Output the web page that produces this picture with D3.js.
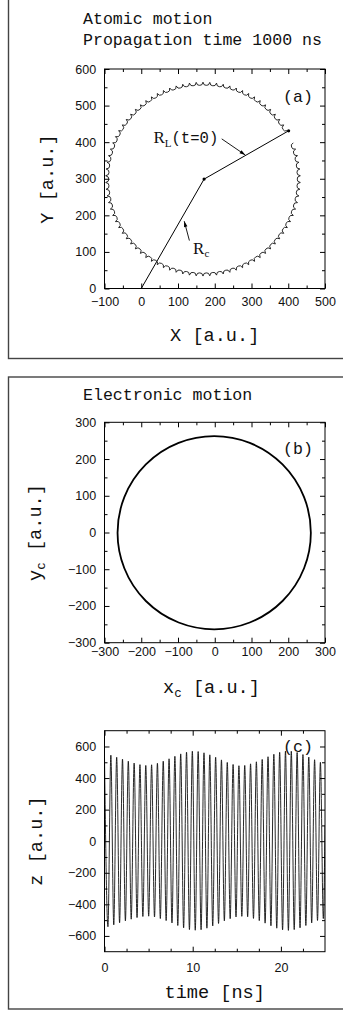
<!DOCTYPE html>
<html>
<head>
<meta charset="utf-8">
<script src="https://cdn.jsdelivr.net/npm/d3@7"></script>
<style>
  body { margin: 0; background: #fff; }
  svg { display: block; }
</style>
</head>
<body>
<div id="main"></div>
<script>
const w = 343, h = 1019;
const mono = "'Liberation Mono', 'DejaVu Sans Mono', monospace";
const sans = "'Liberation Sans', Arial, sans-serif";
const serif = "'Liberation Serif', 'DejaVu Serif', serif";

// ---- panel (a): atomic motion ----
const aXTicks = [-100, 0, 100, 200, 300, 400, 500];
const aXMinor = [-50, 50, 150, 250, 350, 450];
const aYTicks = [0, 100, 200, 300, 400, 500, 600];
const aYMinor = [50, 150, 250, 350, 450, 550];
const orbitCenter = [168, 299];     // centre of the big circle
const orbitRadius = 258;
const cuspHeight = 7;
const cuspAngles = [30, 34, 38, 42, 46, 50, 54, 58, 62, 66, 70, 74, 78, 82, 86, 90,
  94, 98, 102, 106, 110, 114, 118, 122, 126, 130, 134, 138, 142, 146, 150, 154,
  158, 162, 166, 170, 174, 178, 182, 186, 190, 194, 198, 202, 206, 210, 214, 218,
  222, 226, 230, 234, 238, 242, 246, 250, 254, 258, 262, 266, 270, 274, 278, 282,
  286, 290, 294, 298, 302, 306, 310, 314, 318, 322, 326, 330, 334, 338, 342, 346,
  350, 354, 358, 362, 366, 370, 374, 378, 382];
const origin = [0, 0];
const guideCenter = [171, 299];
const startPoint = [401, 431];

// ---- panel (b): electronic motion ----
const bTicks = [-300, -200, -100, 0, 100, 200, 300];
const bMinor = [-250, -150, -50, 50, 150, 250];
const electronCenter = [-1.5, -0.5];
const electronRadius = 263;

// ---- panel (c): z(t) extrema ----
const cXTicks = [0, 10, 20];
const cXMinor = [2.5, 5, 7.5, 12.5, 15, 17.5, 22.5];
const cYTicks = [-600, -400, -200, 0, 200, 400, 600];
const cYMinor = [-500, -300, -100, 100, 300, 500];
const zTime = [0, 0.39, 0.72, 1.05, 1.38, 1.71, 2.04, 2.37, 2.70, 3.03, 3.36, 3.69, 4.02,
  4.35, 4.68, 5.01, 5.34, 5.67, 6.00, 6.33, 6.66, 6.99, 7.32, 7.65, 7.98, 8.31, 8.64,
  8.97, 9.30, 9.63, 9.96, 10.29, 10.62, 10.95, 11.28, 11.61, 11.94, 12.27, 12.60,
  12.93, 13.26, 13.59, 13.92, 14.25, 14.58, 14.91, 15.24, 15.57, 15.90, 16.23, 16.56,
  16.89, 17.22, 17.55, 17.88, 18.21, 18.54, 18.87, 19.20, 19.53, 19.86, 20.19, 20.52,
  20.85, 21.18, 21.51, 21.84, 22.17, 22.50, 22.83, 23.16, 23.49, 23.82, 24.15, 24.48,
  24.81, 25.0];
const zValue = [530, -542, 545, -530, 532, -517, 520, -505, 507, -494, 495, -484, 485,
  -477, 480, -475, 484, -480, 494, -490, 507, -503, 522, -518, 538, -534, 553,
  -549, 564, -560, 570, -564, 568, -561, 560, -551, 547, -537, 532,
  -521, 515, -505, 499, -491, 486, -480, 478, -476, 480, -479, 490,
  -489, 503, -503, 518, -519, 535, -536, 551, -551, 563, -562, 571,
  -565, 570, -560, 562, -549, 549, -534, 533, -518, 516, -502, 500,
  -490, 100];

const svg = d3.select('#main')
  .append('svg')
  .attr('width', w)
  .attr('height', h);

svg.append('rect').attr('width', w).attr('height', h).attr('fill', '#fff');

// outer boxes
svg.append('rect')
  .attr('x', 8.5).attr('y', -3).attr('width', 360).attr('height', 361.5)
  .attr('fill', 'none').attr('stroke', '#444').attr('stroke-width', 1.4);
svg.append('rect')
  .attr('x', 8.5).attr('y', 377).attr('width', 360).attr('height', 632)
  .attr('fill', 'none').attr('stroke', '#444').attr('stroke-width', 1.4);

function drawAxes(x, y, xMaj, xMin, yMaj, yMin, xPad) {
  const g = svg.append('g');
  const [x0, x1] = x.range();
  const [y0, y1] = y.range();
  const bottom = (vals, size, fmt) => g.append('g')
    .attr('transform', 'translate(0,' + y0 + ')')
    .call(d3.axisBottom(x).tickValues(vals).tickSize(-size).tickPadding(xPad).tickFormat(fmt));
  const top = (vals, size) => g.append('g')
    .attr('transform', 'translate(0,' + y1 + ')')
    .call(d3.axisTop(x).tickValues(vals).tickSize(-size).tickFormat(''));
  const left = (vals, size, fmt) => g.append('g')
    .attr('transform', 'translate(' + x0 + ',0)')
    .call(d3.axisLeft(y).tickValues(vals).tickSize(-size).tickPadding(8.3).tickFormat(fmt));
  const right = (vals, size) => g.append('g')
    .attr('transform', 'translate(' + x1 + ',0)')
    .call(d3.axisRight(y).tickValues(vals).tickSize(-size).tickFormat(''));

  bottom(xMaj, 5, d3.format('d'));
  bottom(xMin, 3, '');
  top(xMaj, 5); top(xMin, 3);
  left(yMaj, 5, d3.format('d'));
  left(yMin, 3, '');
  right(yMaj, 5); right(yMin, 3);

  g.selectAll('.domain').remove();
  g.selectAll('.tick line').attr('stroke', '#000').attr('stroke-width', 1);
  g.selectAll('text')
    .attr('font-family', sans)
    .attr('font-size', 12.5)
    .attr('fill', '#111');
  g.selectAll('g').attr('font-family', null).attr('font-size', null);

  svg.append('rect')
    .attr('x', x0).attr('y', y1)
    .attr('width', x1 - x0).attr('height', y0 - y1)
    .attr('fill', 'none').attr('stroke', '#000').attr('stroke-width', 1);
}

function monoText(str, x, y, size, anchor) {
  return svg.append('text')
    .attr('x', x).attr('y', y)
    .attr('font-family', mono)
    .attr('font-size', size)
    .attr('text-anchor', anchor || 'start')
    .attr('fill', '#111')
    .text(str);
}

// ===== panel (a) =====
const xa = d3.scaleLinear().domain([-100, 500]).range([104.5, 325]);
const ya = d3.scaleLinear().domain([0, 600]).range([288.5, 69]);

monoText('Atomic motion', 83, 24, 16.6);
monoText('Propagation time 1000 ns', 83, 45, 16.6);

drawAxes(xa, ya, aXTicks, aXMinor, aYTicks, aYMinor, 9);

const rad = d => d * Math.PI / 180;
const polar = (a, r) => [orbitCenter[0] + r * Math.cos(rad(a)), orbitCenter[1] + r * Math.sin(rad(a))];
const orbitPts = [];
cuspAngles.forEach((a, i) => {
  if (i > 0) {
    orbitPts.push(polar(a - 2, orbitRadius - 1.5));
    orbitPts.push(polar(a - 0.7, orbitRadius));
  }
  orbitPts.push(polar(a, orbitRadius + cuspHeight));
  if (i < cuspAngles.length - 1) orbitPts.push(polar(a + 0.7, orbitRadius));
});

const lineA = d3.line().x(d => xa(d[0])).y(d => ya(d[1]));
svg.append('path')
  .attr('d', lineA(orbitPts))
  .attr('fill', 'none').attr('stroke', '#111').attr('stroke-width', 0.9);

svg.append('path')
  .attr('d', lineA([origin, guideCenter, startPoint]))
  .attr('fill', 'none').attr('stroke', '#000').attr('stroke-width', 1);
[guideCenter, startPoint].forEach(p => {
  svg.append('circle').attr('cx', xa(p[0])).attr('cy', ya(p[1])).attr('r', 1.6).attr('fill', '#000');
});

// annotation arrows (data coords)
function arrow(from, to) {
  const x1 = xa(from[0]), y1 = ya(from[1]), x2 = xa(to[0]), y2 = ya(to[1]);
  const ang = Math.atan2(y2 - y1, x2 - x1);
  const L = 6, s = 0.3;
  svg.append('line').attr('x1', x1).attr('y1', y1).attr('x2', x2).attr('y2', y2)
    .attr('stroke', '#000').attr('stroke-width', 0.9);
  svg.append('path')
    .attr('d', 'M' + x2 + ',' + y2 +
      'L' + (x2 - L * Math.cos(ang - s)) + ',' + (y2 - L * Math.sin(ang - s)) +
      'L' + (x2 - L * Math.cos(ang + s)) + ',' + (y2 - L * Math.sin(ang + s)) + 'Z')
    .attr('fill', '#000');
}
arrow([219, 409], [283, 365]);
arrow([131, 131], [117, 184]);

const rl = svg.append('text').attr('x', xa(33)).attr('y', ya(398)).attr('fill', '#111');
rl.append('tspan').attr('font-family', serif).attr('font-size', 17).text('R');
rl.append('tspan').attr('font-family', serif).attr('font-size', 11).attr('dy', 4).text('L');
rl.append('tspan').attr('font-family', mono).attr('font-size', 15.6).attr('dy', -4).text('(t=0)');

const rc = svg.append('text').attr('x', xa(141)).attr('y', ya(95)).attr('fill', '#111');
rc.append('tspan').attr('font-family', serif).attr('font-size', 17).text('R');
rc.append('tspan').attr('font-family', serif).attr('font-size', 11).attr('dy', 3).text('c');

monoText('(a)', 283, 102, 16.6);
monoText('X [a.u.]', 214.7, 341, 18.6, 'middle');
svg.append('text')
  .attr('transform', 'translate(53,179) rotate(-90)')
  .attr('text-anchor', 'middle')
  .attr('font-family', mono).attr('font-size', 18.6).attr('fill', '#111')
  .text('Y [a.u.]');

// ===== panel (b) =====
const xb = d3.scaleLinear().domain([-300, 300]).range([104.5, 325]);
const yb = d3.scaleLinear().domain([-300, 300]).range([642.7, 422.3]);

monoText('Electronic motion', 83, 400, 16.6);
drawAxes(xb, yb, bTicks, bMinor, bTicks, bMinor, 4);

svg.append('ellipse')
  .attr('cx', xb(electronCenter[0])).attr('cy', yb(electronCenter[1]))
  .attr('rx', xb(electronRadius) - xb(0)).attr('ry', yb(0) - yb(electronRadius))
  .attr('fill', 'none').attr('stroke', '#000').attr('stroke-width', 1.8);

monoText('(b)', 283, 454, 16.6);

const xl = svg.append('text').attr('x', 211.5).attr('y', 693)
  .attr('text-anchor', 'middle').attr('font-family', mono).attr('fill', '#111');
xl.append('tspan').attr('font-size', 18.6).text('x');
xl.append('tspan').attr('font-size', 12.5).attr('dy', 4).text('c');
xl.append('tspan').attr('font-size', 18.6).attr('dy', -4).text(' [a.u.]');

const yl = svg.append('text').attr('transform', 'translate(41,532.5) rotate(-90)')
  .attr('text-anchor', 'middle').attr('font-family', mono).attr('fill', '#111');
yl.append('tspan').attr('font-size', 18.6).text('y');
yl.append('tspan').attr('font-size', 12.5).attr('dy', 4).text('c');
yl.append('tspan').attr('font-size', 18.6).attr('dy', -4).text(' [a.u.]');

// ===== panel (c) =====
const xc = d3.scaleLinear().domain([0, 25]).range([104.5, 325]);
const yc = d3.scaleLinear().domain([-700, 700]).range([951.7, 730.7]);

svg.append('clipPath').attr('id', 'clipc')
  .append('rect').attr('x', 104.5).attr('y', 730.7).attr('width', 325 - 104.5).attr('height', 951.7 - 730.7);

const zData = zTime.map((t, i) => [t, zValue[i]]);
svg.append('path')
  .attr('clip-path', 'url(#clipc)')
  .attr('d', d3.line().curve(d3.curveMonotoneX).x(d => xc(d[0])).y(d => yc(d[1]))(zData))
  .attr('fill', 'none').attr('stroke', '#111').attr('stroke-width', 0.9);

drawAxes(xc, yc, cXTicks, cXMinor, cYTicks, cYMinor, 11);

monoText('(c)', 283, 752, 16.6);
monoText('time [ns]', 214.7, 998, 18.6, 'middle');
svg.append('text')
  .attr('transform', 'translate(42,841) rotate(-90)')
  .attr('text-anchor', 'middle')
  .attr('font-family', mono).attr('font-size', 18.6).attr('fill', '#111')
  .text('z [a.u.]');
</script>
</body>
</html>
